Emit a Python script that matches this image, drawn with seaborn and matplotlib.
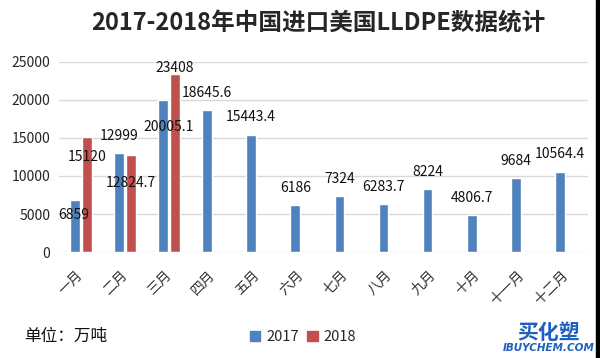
import pandas as pd
import matplotlib.pyplot as plt
import seaborn as sns
from matplotlib.patches import Rectangle

months = ["一月", "二月", "三月", "四月", "五月", "六月",
          "七月", "八月", "九月", "十月", "十一月", "十二月"]
values_2017 = [6859, 12999, 20005.1, 18645.6, 15443.4, 6186,
               7324, 6283.7, 8224, 4806.7, 9684, 10564.4]
months_2018 = ["一月", "二月", "三月"]
values_2018 = [15120, 12824.7, 23408]
labels_2017 = ["6859", "12999", "20005.1", "18645.6", "15443.4", "6186",
               "7324", "6283.7", "8224", "4806.7", "9684", "10564.4"]
labels_2018 = ["15120", "12824.7", "23408"]
y_ticks = [0, 5000, 10000, 15000, 20000, 25000]

data = pd.concat([
    pd.DataFrame({"month": months, "value": values_2017, "year": "2017"}),
    pd.DataFrame({"month": months_2018, "value": values_2018, "year": "2018"}),
])

sns.set_style("white")
plt.rcParams["font.family"] = ["Noto Sans CJK SC", "DejaVu Sans"]

fig = plt.figure(figsize=(6, 3.58), dpi=100)
ax = fig.add_axes([0.098, 0.296, 0.882, 0.531])

sns.barplot(data=data, x="month", y="value", hue="year", order=months,
            hue_order=["2017", "2018"], palette=["#4F81BD", "#C0504D"],
            width=0.55, gap=0.2, ax=ax, legend=False, saturation=1)

ax.set_ylim(0, 25000)
ax.set_yticks(y_ticks)
ax.set_yticklabels([str(t) for t in y_ticks], fontsize=10)
ax.grid(axis="y", color="#D9D9D9", linewidth=1)
ax.set_axisbelow(True)
for s in ax.spines.values():
    s.set_visible(False)
ax.tick_params(length=0, pad=6)
ax.set_xlabel("")
ax.set_ylabel("")
ax.set_xlim(-0.5, 11.5)
plt.setp(ax.get_xticklabels(), rotation=45, ha="right", va="center",
         rotation_mode="anchor", fontsize=10, color="#333333")
ax.tick_params(axis="x", pad=15)

# label nudges (points) for the crowded first months
nudge_2017 = {0: (-1, -11), 2: (4, -19.5)}
nudge_2018 = {0: (0, -14), 1: (0, -20.5), 2: (0, 4.3)}

for cont, labels, nudge in [(ax.containers[0], labels_2017, nudge_2017),
                            (ax.containers[1], labels_2018, nudge_2018)]:
    for i, (bar, lab) in enumerate(zip(cont, labels)):
        dx, dy = nudge.get(i, (0, 12.5))
        ax.annotate(lab, (bar.get_x() + bar.get_width() / 2, bar.get_height()),
                    xytext=(dx, dy), textcoords="offset points",
                    ha="center", va="center", fontsize=10, color="#111111")

fig.suptitle("2017-2018年中国进口美国LLDPE数据统计", x=0.531, y=0.935,
             fontsize=17, fontweight="heavy", va="center")

fig.text(0.04, 0.061, "单位：万吨", fontsize=12, va="center", color="#111111")

handles = [Rectangle((0, 0), 1, 1, color="#4F81BD"),
           Rectangle((0, 0), 1, 1, color="#C0504D")]
fig.legend(handles, ["2017", "2018"], loc="center", bbox_to_anchor=(0.505, 0.059),
           ncol=2, frameon=False, fontsize=10.5, handlelength=0.7,
           handleheight=0.7, handletextpad=0.4, columnspacing=0.6)

fig.text(0.915, 0.07, "买化塑", fontsize=15, fontweight="heavy",
         color="#1F5FC0", ha="center", va="center")
fig.text(0.915, 0.028, "IBUYCHEM.COM", fontsize=7.5, fontweight="bold",
         color="#1F5FC0", ha="center", va="center", style="italic",
         family="DejaVu Sans")

fig.add_artist(Rectangle((0.993, 0), 0.007, 1, transform=fig.transFigure,
                         color="black"))

fig.savefig("out.png", dpi=100)
